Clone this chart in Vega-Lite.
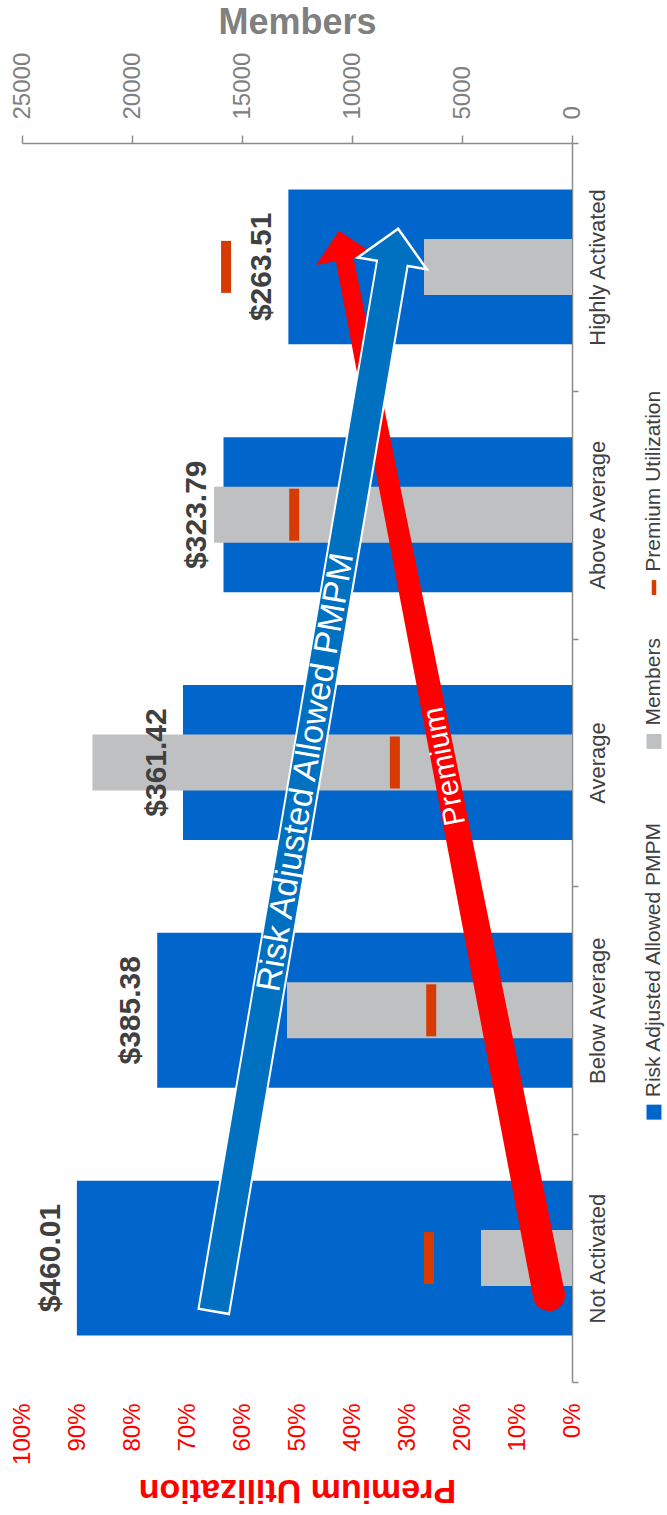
{
  "$schema": "https://vega.github.io/schema/vega-lite/v6.json",
  "width": 550,
  "height": 1239,
  "autosize": {"type": "none"},
  "padding": {"left": 22, "top": 143, "right": 95, "bottom": 133},
  "config": {"view": {"stroke": null}, "font": "Liberation Sans"},
  "datasets": {
    "main": [
      {"group": "Not Activated", "pmpm": 460.01, "label": "$460.01", "members": 4136, "util": 0.26},
      {"group": "Below Average", "pmpm": 385.38, "label": "$385.38", "members": 12955, "util": 0.256},
      {"group": "Average", "pmpm": 361.42, "label": "$361.42", "members": 21800, "util": 0.322},
      {"group": "Above Average", "pmpm": 323.79, "label": "$323.79", "members": 16270, "util": 0.505},
      {"group": "Highly Activated", "pmpm": 263.51, "label": "$263.51", "members": 6727, "util": 0.629}
    ],
    "arrows": [
      {"part": "red_shaft", "o": 1, "m": 1045, "pos": 0.351, "w": 32},
      {"part": "red_shaft", "o": 2, "m": 10327, "pos": 4.527, "w": 18},
      {"part": "red_head", "o": 1, "m": 10464, "pos": 4.588, "w": 0},
      {"part": "red_text", "o": 1, "m": 5782, "pos": 2.484, "w": 0, "text": "Premium"},
      {"part": "blue_outline", "o": 1, "m": 16292, "pos": 0.28, "w": 0},
      {"part": "blue_outline", "o": 2, "m": 8159, "pos": 4.518, "w": 0},
      {"part": "blue_shaft", "o": 1, "m": 16273, "pos": 0.29, "w": 0},
      {"part": "blue_shaft", "o": 2, "m": 8136, "pos": 4.532, "w": 0},
      {"part": "blue_head", "o": 1, "m": 8036, "pos": 4.584, "w": 0},
      {"part": "blue_text", "o": 1, "m": 12080, "pos": 2.46, "w": 0, "text": "Risk Adjusted Allowed PMPM"}
    ],
    "legend": [
      {"label": "Risk Adjusted Allowed PMPM", "color": "#0066CC", "shape": "square", "sz": 225, "lx": -3727, "psym": 1.089, "ptext": 1.149},
      {"label": "Members", "color": "#BFC0C2", "shape": "square", "sz": 225, "lx": -3727, "psym": 2.585, "ptext": 2.649},
      {"label": "Premium Utilization", "color": "#D83B01", "shape": "M-0.15,-0.5L0.15,-0.5L0.15,0.5L-0.15,0.5Z", "sz": 900, "lx": -3727, "psym": 3.206, "ptext": 3.27}
    ]
  },
  "layer": [
    {
      "data": {"name": "main"},
      "mark": {"type": "bar", "color": "#0066CC", "height": {"band": 0.625}},
      "encoding": {
        "y": {"field": "group", "type": "nominal",
          "scale": {"type": "band", "domain": ["Highly Activated", "Above Average", "Average", "Below Average", "Not Activated"], "paddingInner": 0, "paddingOuter": 0},
          "axis": {"orient": "right", "title": null, "labelAngle": -90, "labelAlign": "center", "labelBaseline": "top", "labelFontSize": 22, "labelColor": "#404040", "labelPadding": 9, "tickBand": "extent", "tickSize": 6, "tickColor": "#8c8c8c", "tickWidth": 1.5, "domainColor": "#8c8c8c", "domainWidth": 1.5, "grid": false, "labelLimit": 0}},
        "x": {"field": "pmpm", "type": "quantitative", "scale": {"domain": [0, 511], "reverse": true}, "axis": null}
      }
    },
    {
      "data": {"name": "main"},
      "mark": {"type": "bar", "color": "#BFC0C2", "height": {"band": 0.226}},
      "encoding": {
        "y": {"field": "group", "type": "nominal",
          "scale": {"type": "band", "domain": ["Highly Activated", "Above Average", "Average", "Below Average", "Not Activated"], "paddingInner": 0, "paddingOuter": 0},
          "axis": null},
        "x": {"field": "members", "type": "quantitative", "scale": {"domain": [0, 25000], "reverse": true},
          "axis": {"orient": "top", "title": "Members", "values": [0, 5000, 10000, 15000, 20000, 25000], "format": "d", "labelAngle": -90, "labelAlign": "left", "labelBaseline": "middle", "labelFontSize": 24, "labelColor": "#808080", "labelPadding": 16, "tickSize": 8, "tickColor": "#8c8c8c", "tickWidth": 1.5, "domainColor": "#8c8c8c", "domainWidth": 1.5, "titleFontSize": 36, "titleFontWeight": "bold", "titleColor": "#808080", "titleY": -110, "titleBaseline": "alphabetic", "grid": false, "labelFlush": false, "labelOverlap": false}}
      }
    },
    {
      "data": {"name": "main"},
      "mark": {"type": "tick", "color": "#D83B01", "thickness": 10, "size": 52, "opacity": 1},
      "encoding": {
        "y": {"field": "group", "type": "nominal",
          "scale": {"type": "band", "domain": ["Highly Activated", "Above Average", "Average", "Below Average", "Not Activated"], "paddingInner": 0, "paddingOuter": 0},
          "axis": null},
        "x": {"field": "util", "type": "quantitative", "scale": {"domain": [0, 1], "reverse": true},
          "axis": {"orient": "bottom", "title": "Premium Utilization", "values": [0, 0.1, 0.2, 0.3, 0.4, 0.5, 0.6, 0.7, 0.8, 0.9, 1], "format": ".0%", "labelAngle": -90, "labelAlign": "right", "labelBaseline": "middle", "labelFontSize": 24, "labelColor": "#FF0000", "labelPadding": 21, "ticks": false, "tickSize": 0, "domain": false, "grid": false, "titleFontSize": 34, "titleFontWeight": "bold", "titleColor": "#FF0000", "titleAngle": 180, "titleBaseline": "top", "titleY": 124, "labelFlush": false, "labelOverlap": false}}
      }
    },
    {
      "data": {"name": "main"},
      "mark": {"type": "text", "angle": 270, "align": "center", "baseline": "alphabetic", "fontSize": 30, "fontWeight": "bold", "color": "#404040", "xOffset": -17},
      "encoding": {
        "y": {"field": "group", "type": "nominal",
          "scale": {"type": "band", "domain": ["Highly Activated", "Above Average", "Average", "Below Average", "Not Activated"], "paddingInner": 0, "paddingOuter": 0},
          "axis": null},
        "x": {"field": "pmpm", "type": "quantitative", "scale": {"domain": [0, 511], "reverse": true}, "axis": null},
        "text": {"field": "label", "type": "nominal"}
      }
    },
    {
      "data": {"name": "arrows"},
      "transform": [{"filter": "datum.part === 'red_shaft'"}],
      "mark": {"type": "trail", "color": "#FF0000", "opacity": 1},
      "encoding": {
        "x": {"field": "m", "type": "quantitative", "scale": {"domain": [0, 25000], "reverse": true}, "axis": null},
        "y": {"field": "pos", "type": "quantitative", "scale": {"domain": [0, 5]}, "axis": null},
        "size": {"field": "w", "type": "quantitative", "scale": null},
        "order": {"field": "o", "type": "quantitative"}
      }
    },
    {
      "data": {"name": "arrows"},
      "transform": [{"filter": "datum.part === 'red_head'"}],
      "mark": {"type": "point", "shape": "M-1,0.5L0,-0.5L1,0.5Z", "filled": true, "color": "#FF0000", "opacity": 1, "size": 3364, "angle": -11.15},
      "encoding": {
        "x": {"field": "m", "type": "quantitative", "scale": {"domain": [0, 25000], "reverse": true}, "axis": null},
        "y": {"field": "pos", "type": "quantitative", "scale": {"domain": [0, 5]}, "axis": null}
      }
    },
    {
      "data": {"name": "arrows"},
      "transform": [{"filter": "datum.part === 'red_text'"}],
      "mark": {"type": "text", "color": "#FFFFFF", "fontSize": 30, "angle": -101.15, "align": "center", "baseline": "middle"},
      "encoding": {
        "x": {"field": "m", "type": "quantitative", "scale": {"domain": [0, 25000], "reverse": true}, "axis": null},
        "y": {"field": "pos", "type": "quantitative", "scale": {"domain": [0, 5]}, "axis": null},
        "text": {"field": "text", "type": "nominal"}
      }
    },
    {
      "data": {"name": "arrows"},
      "transform": [{"filter": "datum.part === 'blue_outline'"}],
      "mark": {"type": "line", "color": "#FFFFFF", "strokeWidth": 33, "strokeCap": "butt"},
      "encoding": {
        "x": {"field": "m", "type": "quantitative", "scale": {"domain": [0, 25000], "reverse": true}, "axis": null},
        "y": {"field": "pos", "type": "quantitative", "scale": {"domain": [0, 5]}, "axis": null},
        "order": {"field": "o", "type": "quantitative"}
      }
    },
    {
      "data": {"name": "arrows"},
      "transform": [{"filter": "datum.part === 'blue_head'"}],
      "mark": {"type": "point", "shape": "M-1,0.5L0,-0.5L1,0.5Z", "filled": true, "fill": "#0070C0", "stroke": "#FFFFFF", "strokeWidth": 2.5, "opacity": 1, "size": 4900, "angle": 9.66},
      "encoding": {
        "x": {"field": "m", "type": "quantitative", "scale": {"domain": [0, 25000], "reverse": true}, "axis": null},
        "y": {"field": "pos", "type": "quantitative", "scale": {"domain": [0, 5]}, "axis": null}
      }
    },
    {
      "data": {"name": "arrows"},
      "transform": [{"filter": "datum.part === 'blue_shaft'"}],
      "mark": {"type": "line", "color": "#0070C0", "strokeWidth": 29, "strokeCap": "butt"},
      "encoding": {
        "x": {"field": "m", "type": "quantitative", "scale": {"domain": [0, 25000], "reverse": true}, "axis": null},
        "y": {"field": "pos", "type": "quantitative", "scale": {"domain": [0, 5]}, "axis": null},
        "order": {"field": "o", "type": "quantitative"}
      }
    },
    {
      "data": {"name": "arrows"},
      "transform": [{"filter": "datum.part === 'blue_text'"}],
      "mark": {"type": "text", "color": "#FFFFFF", "fontSize": 34, "angle": -80.34, "align": "center", "baseline": "middle"},
      "encoding": {
        "x": {"field": "m", "type": "quantitative", "scale": {"domain": [0, 25000], "reverse": true}, "axis": null},
        "y": {"field": "pos", "type": "quantitative", "scale": {"domain": [0, 5]}, "axis": null},
        "text": {"field": "text", "type": "nominal"}
      }
    },
    {
      "data": {"name": "legend"},
      "mark": {"type": "point", "filled": true, "opacity": 1},
      "encoding": {
        "x": {"field": "lx", "type": "quantitative", "scale": {"domain": [0, 25000], "reverse": true}, "axis": null},
        "y": {"field": "psym", "type": "quantitative", "scale": {"domain": [0, 5]}, "axis": null},
        "shape": {"field": "shape", "type": "nominal", "scale": null},
        "color": {"field": "color", "type": "nominal", "scale": null},
        "size": {"field": "sz", "type": "quantitative", "scale": null}
      }
    },
    {
      "data": {"name": "legend"},
      "mark": {"type": "text", "angle": 270, "align": "left", "baseline": "middle", "fontSize": 21, "color": "#404040"},
      "encoding": {
        "x": {"field": "lx", "type": "quantitative", "scale": {"domain": [0, 25000], "reverse": true}, "axis": null},
        "y": {"field": "ptext", "type": "quantitative", "scale": {"domain": [0, 5]}, "axis": null},
        "text": {"field": "label", "type": "nominal"}
      }
    }
  ],
  "resolve": {"scale": {"x": "independent", "y": "independent"}, "axis": {"x": "independent", "y": "independent"}}
}
